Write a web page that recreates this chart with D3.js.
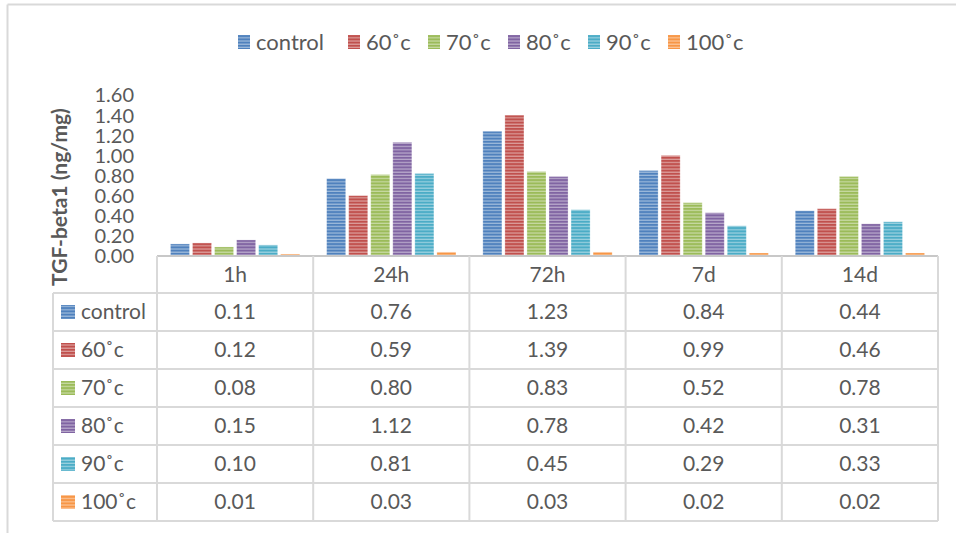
<!DOCTYPE html>
<html>
<head>
<meta charset="utf-8">
<script src="https://cdn.jsdelivr.net/npm/d3@7"></script>
<style>
  html, body { margin: 0; padding: 0; background: #fff; }
  svg { display: block; font-family: Lato, "Open Sans", sans-serif; }
</style>
</head>
<body>
<svg id="chart" width="956" height="533"></svg>
<script>
// Time points and treatment groups
const categories = ["1h", "24h", "72h", "7d", "14d"];
const seriesNames = ["control", "60˚c", "70˚c", "80˚c", "90˚c", "100˚c"];

// TGF-beta1 concentration (ng/mg) per treatment, one value per time point
const controlValues = [0.11, 0.76, 1.23, 0.84, 0.44];
const t60Values     = [0.12, 0.59, 1.39, 0.99, 0.46];
const t70Values     = [0.08, 0.80, 0.83, 0.52, 0.78];
const t80Values     = [0.15, 1.12, 0.78, 0.42, 0.31];
const t90Values     = [0.10, 0.81, 0.45, 0.29, 0.33];
const t100Values    = [0.01, 0.03, 0.03, 0.02, 0.02];

const yTicks = [0, 0.2, 0.4, 0.6, 0.8, 1.0, 1.2, 1.4, 1.6];
const colors = ["#4f81bd", "#c0504d", "#9bbb59", "#8064a2", "#4bacc6", "#f79646"];

const series = seriesNames.map((name, i) => ({
  name,
  color: colors[i],
  values: [controlValues, t60Values, t70Values, t80Values, t90Values, t100Values][i]
}));

const svg = d3.select("#chart");
const textColor = "#595959";
const gridColor = "#d9d9d9";

// Striped fills (light horizontal lines over the series colour)
const defs = svg.append("defs");
series.forEach((s, i) => {
  const p = defs.append("pattern")
    .attr("id", "stripe" + i)
    .attr("patternUnits", "userSpaceOnUse")
    .attr("width", 6).attr("height", 3.2);
  p.append("rect").attr("width", 6).attr("height", 3.2).attr("fill", s.color);
  p.append("rect").attr("y", 2).attr("width", 6).attr("height", 1.2)
    .attr("fill", "#fff").attr("opacity", 0.45);
});

// Outer frame
svg.append("line").attr("x1", 7.5).attr("x2", 956).attr("y1", 4.5).attr("y2", 4.5)
  .attr("stroke", gridColor).attr("stroke-width", 2);
svg.append("line").attr("x1", 7.5).attr("x2", 7.5).attr("y1", 4.5).attr("y2", 533)
  .attr("stroke", gridColor).attr("stroke-width", 2);

// Scales
const plotLeft = 157, plotRight = 938;
const x = d3.scaleBand().domain(categories).range([plotLeft, plotRight]).padding(0);
const xs = d3.scaleBand().domain(seriesNames).range([0, x.bandwidth()])
  .paddingInner(0.136).paddingOuter(0.61);
const y = d3.scaleLinear().domain([0, 1.6]).range([255, 94]);

// Y tick labels
const yAxis = d3.axisLeft(y).tickValues(yTicks).tickFormat(d3.format(".2f")).tickSize(0).tickPadding(0);
const yg = svg.append("g").attr("transform", "translate(134,1.5)").call(yAxis);
yg.select(".domain").remove();
yg.selectAll("text").attr("fill", textColor).style("font-size", "20px")
  .style("font-family", "Lato, sans-serif");

// Y axis title
svg.append("text")
  .attr("transform", "translate(67,197) rotate(-90)")
  .attr("text-anchor", "middle")
  .attr("fill", textColor)
  .style("font-size", "21px").style("font-weight", "bold")
  .text("TGF-beta1 (ng/mg)");

// Bars
const groups = svg.append("g").selectAll("g").data(series).join("g")
  .attr("fill", (d, i) => `url(#stripe${i})`);
groups.selectAll("rect")
  .data(s => s.values.map((v, j) => ({ name: s.name, cat: categories[j], v })))
  .join("rect")
  .attr("x", d => x(d.cat) + xs(d.name))
  .attr("width", xs.bandwidth())
  .attr("y", d => y(d.v))
  .attr("height", d => y(0) - y(d.v))
  .attr("stroke", "#fff").attr("stroke-opacity", 0.35).attr("stroke-width", 0.8);

// Data table under the plot
const tableTop = 256, headerH = 37, rowH = 38, labelLeft = 53;
const rows = series.length;
const tableBottom = tableTop + headerH + rows * rowH;
const tg = svg.append("g");

// horizontal rules
tg.append("line").attr("x1", plotLeft).attr("x2", plotRight)
  .attr("y1", tableTop).attr("y2", tableTop).attr("stroke", "#c8c8c8").attr("stroke-width", 2);
for (let r = 0; r <= rows; r++) {
  const yy = tableTop + headerH + r * rowH;
  tg.append("line").attr("x1", labelLeft).attr("x2", plotRight)
    .attr("y1", yy).attr("y2", yy).attr("stroke", gridColor).attr("stroke-width", 2);
}
// vertical rules
categories.forEach(c => {
  tg.append("line").attr("x1", x(c)).attr("x2", x(c))
    .attr("y1", tableTop).attr("y2", tableBottom).attr("stroke", gridColor).attr("stroke-width", 2);
});
tg.append("line").attr("x1", plotRight).attr("x2", plotRight)
  .attr("y1", tableTop).attr("y2", tableBottom).attr("stroke", gridColor).attr("stroke-width", 2);
tg.append("line").attr("x1", labelLeft).attr("x2", labelLeft)
  .attr("y1", tableTop + headerH).attr("y2", tableBottom).attr("stroke", gridColor).attr("stroke-width", 2);

// header cells
tg.selectAll("text.hdr").data(categories).join("text")
  .attr("class", "hdr")
  .attr("x", d => x(d) + x.bandwidth() / 2)
  .attr("y", tableTop + headerH / 2)
  .attr("dy", "0.35em")
  .attr("text-anchor", "middle")
  .attr("fill", textColor).style("font-size", "21px")
  .text(d => d);

// rows
series.forEach((s, r) => {
  const cy = tableTop + headerH + r * rowH + rowH / 2;
  tg.append("rect").attr("x", 61).attr("y", cy - 7).attr("width", 14).attr("height", 14)
    .attr("fill", `url(#stripe${r})`);
  tg.append("text").attr("x", 81).attr("y", cy).attr("dy", "0.35em")
    .attr("fill", textColor).style("font-size", "21px").text(s.name);
  s.values.forEach((v, j) => {
    tg.append("text")
      .attr("x", x(categories[j]) + x.bandwidth() / 2)
      .attr("y", cy).attr("dy", "0.35em")
      .attr("text-anchor", "middle")
      .attr("fill", textColor).style("font-size", "21px")
      .text(d3.format(".2f")(v));
  });
});

// Legend
const legendX = [238, 348, 428, 508, 588, 668];
const lg = svg.append("g");
series.forEach((s, i) => {
  lg.append("rect").attr("x", legendX[i]).attr("y", 35).attr("width", 12).attr("height", 14)
    .attr("fill", `url(#stripe${i})`);
  lg.append("text").attr("x", legendX[i] + 18).attr("y", 42).attr("dy", "0.35em")
    .attr("fill", textColor).style("font-size", "22px").text(s.name);
});
</script>
</body>
</html>
